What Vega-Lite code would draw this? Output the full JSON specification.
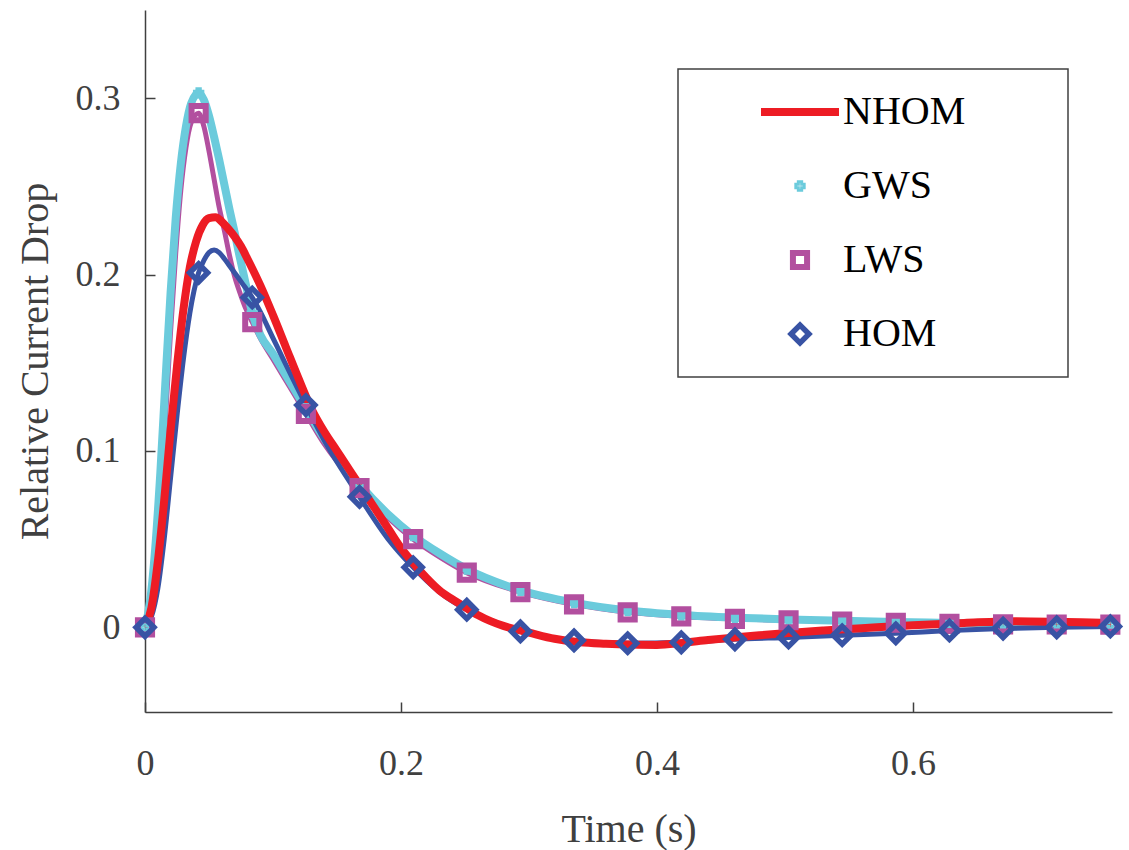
{
  "$schema": "https://vega.github.io/schema/vega-lite/v6.json",
  "width": 967,
  "height": 702,
  "autosize": {"type": "none"},
  "padding": {"left": 145, "top": 10, "right": 17, "bottom": 138},
  "background": "white",
  "config": {
    "view": {"stroke": null},
    "font": "Liberation Serif",
    "axis": {
      "grid": false,
      "domainColor": "#404040",
      "domainWidth": 1.5,
      "tickColor": "#404040",
      "tickWidth": 1.5,
      "tickSize": -10,
      "labelFont": "Liberation Serif",
      "labelFontSize": 36,
      "labelColor": "#404040",
      "titleFont": "Liberation Serif",
      "titleFontSize": 40,
      "titleFontWeight": "normal",
      "titleColor": "#404040",
      "labelFlush": false
    }
  },
  "datasets": {
    "curves": [
      {"s":"GWS","t":0,"v":0},{"s":"GWS","t":0.004,"v":0.015},{"s":"GWS","t":0.008,"v":0.045},{"s":"GWS","t":0.012,"v":0.088},{"s":"GWS","t":0.016,"v":0.14},{"s":"GWS","t":0.02,"v":0.19},{"s":"GWS","t":0.024,"v":0.232},{"s":"GWS","t":0.028,"v":0.263},{"s":"GWS","t":0.032,"v":0.284},{"s":"GWS","t":0.036,"v":0.297},{"s":"GWS","t":0.0419,"v":0.303},{"s":"GWS","t":0.046,"v":0.299},{"s":"GWS","t":0.05,"v":0.29},{"s":"GWS","t":0.054,"v":0.278},{"s":"GWS","t":0.058,"v":0.265},{"s":"GWS","t":0.062,"v":0.251},{"s":"GWS","t":0.066,"v":0.237},{"s":"GWS","t":0.07,"v":0.224},{"s":"GWS","t":0.074,"v":0.21},{"s":"GWS","t":0.078,"v":0.197},{"s":"GWS","t":0.0838,"v":0.178},{"s":"GWS","t":0.09,"v":0.166},{"s":"GWS","t":0.1,"v":0.155},{"s":"GWS","t":0.11,"v":0.143},{"s":"GWS","t":0.1257,"v":0.124},{"s":"GWS","t":0.14,"v":0.107},{"s":"GWS","t":0.1676,"v":0.081},{"s":"GWS","t":0.19,"v":0.064},{"s":"GWS","t":0.2095,"v":0.052},{"s":"GWS","t":0.23,"v":0.042},{"s":"GWS","t":0.2514,"v":0.033},{"s":"GWS","t":0.2933,"v":0.021},{"s":"GWS","t":0.3352,"v":0.014},{"s":"GWS","t":0.3771,"v":0.0095},{"s":"GWS","t":0.419,"v":0.007},{"s":"GWS","t":0.4609,"v":0.0055},{"s":"GWS","t":0.5028,"v":0.0045},{"s":"GWS","t":0.5447,"v":0.0037},{"s":"GWS","t":0.5866,"v":0.003},{"s":"GWS","t":0.6285,"v":0.0025},{"s":"GWS","t":0.6704,"v":0.002},{"s":"GWS","t":0.7123,"v":0.0018},{"s":"GWS","t":0.7542,"v":0.0016},
      {"s":"LWS","t":0,"v":0},{"s":"LWS","t":0.004,"v":0.008},{"s":"LWS","t":0.008,"v":0.032},{"s":"LWS","t":0.012,"v":0.07},{"s":"LWS","t":0.016,"v":0.118},{"s":"LWS","t":0.02,"v":0.168},{"s":"LWS","t":0.024,"v":0.212},{"s":"LWS","t":0.028,"v":0.248},{"s":"LWS","t":0.032,"v":0.272},{"s":"LWS","t":0.036,"v":0.286},{"s":"LWS","t":0.0419,"v":0.2915},{"s":"LWS","t":0.046,"v":0.284},{"s":"LWS","t":0.05,"v":0.27},{"s":"LWS","t":0.054,"v":0.254},{"s":"LWS","t":0.058,"v":0.238},{"s":"LWS","t":0.062,"v":0.225},{"s":"LWS","t":0.066,"v":0.211},{"s":"LWS","t":0.07,"v":0.199},{"s":"LWS","t":0.074,"v":0.19},{"s":"LWS","t":0.078,"v":0.182},{"s":"LWS","t":0.0838,"v":0.173},{"s":"LWS","t":0.09,"v":0.164},{"s":"LWS","t":0.1,"v":0.152},{"s":"LWS","t":0.11,"v":0.14},{"s":"LWS","t":0.1257,"v":0.121},{"s":"LWS","t":0.14,"v":0.104},{"s":"LWS","t":0.1676,"v":0.079},{"s":"LWS","t":0.19,"v":0.062},{"s":"LWS","t":0.2095,"v":0.05},{"s":"LWS","t":0.23,"v":0.04},{"s":"LWS","t":0.2514,"v":0.031},{"s":"LWS","t":0.2933,"v":0.02},{"s":"LWS","t":0.3352,"v":0.013},{"s":"LWS","t":0.3771,"v":0.0085},{"s":"LWS","t":0.419,"v":0.0062},{"s":"LWS","t":0.4609,"v":0.0048},{"s":"LWS","t":0.5028,"v":0.004},{"s":"LWS","t":0.5447,"v":0.0033},{"s":"LWS","t":0.5866,"v":0.0026},{"s":"LWS","t":0.6285,"v":0.002},{"s":"LWS","t":0.6704,"v":0.0017},{"s":"LWS","t":0.7123,"v":0.0016},{"s":"LWS","t":0.7542,"v":0.0015},
      {"s":"HOM","t":0,"v":0},{"s":"HOM","t":0.005,"v":0.006},{"s":"HOM","t":0.01,"v":0.022},{"s":"HOM","t":0.015,"v":0.05},{"s":"HOM","t":0.02,"v":0.085},{"s":"HOM","t":0.025,"v":0.12},{"s":"HOM","t":0.03,"v":0.152},{"s":"HOM","t":0.035,"v":0.178},{"s":"HOM","t":0.0419,"v":0.201},{"s":"HOM","t":0.046,"v":0.208},{"s":"HOM","t":0.05,"v":0.2125},{"s":"HOM","t":0.054,"v":0.214},{"s":"HOM","t":0.058,"v":0.2125},{"s":"HOM","t":0.062,"v":0.209},{"s":"HOM","t":0.066,"v":0.205},{"s":"HOM","t":0.07,"v":0.201},{"s":"HOM","t":0.075,"v":0.196},{"s":"HOM","t":0.0838,"v":0.187},{"s":"HOM","t":0.09,"v":0.179},{"s":"HOM","t":0.1,"v":0.164},{"s":"HOM","t":0.11,"v":0.149},{"s":"HOM","t":0.1257,"v":0.126},{"s":"HOM","t":0.14,"v":0.106},{"s":"HOM","t":0.1676,"v":0.074},{"s":"HOM","t":0.19,"v":0.05},{"s":"HOM","t":0.2095,"v":0.034},{"s":"HOM","t":0.23,"v":0.02},{"s":"HOM","t":0.2514,"v":0.01},{"s":"HOM","t":0.27,"v":0.004},{"s":"HOM","t":0.2933,"v":-0.0023},{"s":"HOM","t":0.31,"v":-0.005},{"s":"HOM","t":0.3352,"v":-0.0074},{"s":"HOM","t":0.3771,"v":-0.009},{"s":"HOM","t":0.419,"v":-0.0085},{"s":"HOM","t":0.4609,"v":-0.0068},{"s":"HOM","t":0.5028,"v":-0.0057},{"s":"HOM","t":0.5447,"v":-0.0045},{"s":"HOM","t":0.5866,"v":-0.0034},{"s":"HOM","t":0.6285,"v":-0.0018},{"s":"HOM","t":0.6704,"v":-0.0007},{"s":"HOM","t":0.7123,"v":0},{"s":"HOM","t":0.7542,"v":0.0005},
      {"s":"NHOM","t":0,"v":0},{"s":"NHOM","t":0.005,"v":0.011},{"s":"NHOM","t":0.01,"v":0.037},{"s":"NHOM","t":0.015,"v":0.072},{"s":"NHOM","t":0.02,"v":0.112},{"s":"NHOM","t":0.025,"v":0.148},{"s":"NHOM","t":0.03,"v":0.18},{"s":"NHOM","t":0.035,"v":0.204},{"s":"NHOM","t":0.04,"v":0.219},{"s":"NHOM","t":0.045,"v":0.228},{"s":"NHOM","t":0.05,"v":0.232},{"s":"NHOM","t":0.055,"v":0.2325},{"s":"NHOM","t":0.06,"v":0.23},{"s":"NHOM","t":0.065,"v":0.226},{"s":"NHOM","t":0.07,"v":0.2215},{"s":"NHOM","t":0.075,"v":0.216},{"s":"NHOM","t":0.08,"v":0.209},{"s":"NHOM","t":0.09,"v":0.194},{"s":"NHOM","t":0.1,"v":0.177},{"s":"NHOM","t":0.11,"v":0.159},{"s":"NHOM","t":0.12,"v":0.141},{"s":"NHOM","t":0.13,"v":0.124},{"s":"NHOM","t":0.14,"v":0.111},{"s":"NHOM","t":0.15,"v":0.1},{"s":"NHOM","t":0.16,"v":0.089},{"s":"NHOM","t":0.17,"v":0.078},{"s":"NHOM","t":0.18,"v":0.067},{"s":"NHOM","t":0.19,"v":0.056},{"s":"NHOM","t":0.2,"v":0.045},{"s":"NHOM","t":0.21,"v":0.036},{"s":"NHOM","t":0.22,"v":0.028},{"s":"NHOM","t":0.23,"v":0.021},{"s":"NHOM","t":0.24,"v":0.016},{"s":"NHOM","t":0.25,"v":0.0115},{"s":"NHOM","t":0.26,"v":0.007},{"s":"NHOM","t":0.27,"v":0.0035},{"s":"NHOM","t":0.28,"v":0.0008},{"s":"NHOM","t":0.29,"v":-0.0012},{"s":"NHOM","t":0.3,"v":-0.003},{"s":"NHOM","t":0.32,"v":-0.0065},{"s":"NHOM","t":0.34,"v":-0.0085},{"s":"NHOM","t":0.36,"v":-0.0093},{"s":"NHOM","t":0.38,"v":-0.0098},{"s":"NHOM","t":0.4,"v":-0.01},{"s":"NHOM","t":0.42,"v":-0.0088},{"s":"NHOM","t":0.44,"v":-0.0072},{"s":"NHOM","t":0.46,"v":-0.0058},{"s":"NHOM","t":0.48,"v":-0.0045},{"s":"NHOM","t":0.5,"v":-0.0033},{"s":"NHOM","t":0.53,"v":-0.0018},{"s":"NHOM","t":0.56,"v":-0.0005},{"s":"NHOM","t":0.6,"v":0.0012},{"s":"NHOM","t":0.64,"v":0.0025},{"s":"NHOM","t":0.68,"v":0.0035},{"s":"NHOM","t":0.72,"v":0.003},{"s":"NHOM","t":0.755,"v":0.0025}
    ],
    "markers": [
      {"s":"GWS","t":0,"v":0},{"s":"GWS","t":0.0419,"v":0.303},{"s":"GWS","t":0.0838,"v":0.178},{"s":"GWS","t":0.1257,"v":0.124},{"s":"GWS","t":0.1676,"v":0.081},{"s":"GWS","t":0.2095,"v":0.052},{"s":"GWS","t":0.2514,"v":0.033},{"s":"GWS","t":0.2933,"v":0.021},{"s":"GWS","t":0.3352,"v":0.014},{"s":"GWS","t":0.3771,"v":0.0095},{"s":"GWS","t":0.419,"v":0.007},{"s":"GWS","t":0.4609,"v":0.0055},{"s":"GWS","t":0.5028,"v":0.0045},{"s":"GWS","t":0.5447,"v":0.0037},{"s":"GWS","t":0.5866,"v":0.003},{"s":"GWS","t":0.6285,"v":0.0025},{"s":"GWS","t":0.6704,"v":0.002},{"s":"GWS","t":0.7123,"v":0.0018},{"s":"GWS","t":0.7542,"v":0.0016},
      {"s":"LWS","t":0,"v":0},{"s":"LWS","t":0.0419,"v":0.2915},{"s":"LWS","t":0.0838,"v":0.173},{"s":"LWS","t":0.1257,"v":0.121},{"s":"LWS","t":0.1676,"v":0.079},{"s":"LWS","t":0.2095,"v":0.05},{"s":"LWS","t":0.2514,"v":0.031},{"s":"LWS","t":0.2933,"v":0.02},{"s":"LWS","t":0.3352,"v":0.013},{"s":"LWS","t":0.3771,"v":0.0085},{"s":"LWS","t":0.419,"v":0.0062},{"s":"LWS","t":0.4609,"v":0.0048},{"s":"LWS","t":0.5028,"v":0.004},{"s":"LWS","t":0.5447,"v":0.0033},{"s":"LWS","t":0.5866,"v":0.0026},{"s":"LWS","t":0.6285,"v":0.002},{"s":"LWS","t":0.6704,"v":0.0017},{"s":"LWS","t":0.7123,"v":0.0016},{"s":"LWS","t":0.7542,"v":0.0015},
      {"s":"HOM","t":0,"v":0},{"s":"HOM","t":0.0419,"v":0.201},{"s":"HOM","t":0.0838,"v":0.187},{"s":"HOM","t":0.1257,"v":0.126},{"s":"HOM","t":0.1676,"v":0.074},{"s":"HOM","t":0.2095,"v":0.034},{"s":"HOM","t":0.2514,"v":0.01},{"s":"HOM","t":0.2933,"v":-0.0023},{"s":"HOM","t":0.3352,"v":-0.0074},{"s":"HOM","t":0.3771,"v":-0.009},{"s":"HOM","t":0.419,"v":-0.0085},{"s":"HOM","t":0.4609,"v":-0.0068},{"s":"HOM","t":0.5028,"v":-0.0057},{"s":"HOM","t":0.5447,"v":-0.0045},{"s":"HOM","t":0.5866,"v":-0.0034},{"s":"HOM","t":0.6285,"v":-0.0018},{"s":"HOM","t":0.6704,"v":-0.0007},{"s":"HOM","t":0.7123,"v":0},{"s":"HOM","t":0.7542,"v":0.0005}
    ]
  },
  "encoding": {
    "x": {"field": "t", "type": "quantitative", "scale": {"domain": [0, 0.7555], "nice": false, "zero": false}, "axis": {"title": "Time (s)", "values": [0, 0.2, 0.4, 0.6], "format": ".1~f", "labelPadding": 44, "titlePadding": 28}},
    "y": {"field": "v", "type": "quantitative", "scale": {"domain": [-0.048, 0.35], "nice": false, "zero": false}, "axis": {"title": "Relative Current Drop", "values": [0, 0.1, 0.2, 0.3], "format": ".1~f", "labelPadding": 35, "titlePadding": 20}},
    "color": {"field": "s", "type": "nominal", "scale": {"domain": ["NHOM","GWS","LWS","HOM"], "range": ["#ED1C24","#6BCBDC","#B24F9F","#3853A4"]},
      "legend": {"title": null, "orient": "none", "legendX": 533, "legendY": 59, "padding": 6, "strokeColor": "#404040", "fillColor": "white", "clipHeight": 74, "labelFont": "Liberation Serif", "labelFontSize": 40, "labelColor": "black", "labelOffset": 0, "rowPadding": 0, "symbolOffset": 73,
        "encode": {
          "legend": {"update": {"strokeWidth": {"value": 1.5}}},
          "symbols": {"update": {
            "fill": {"value": {"expr": "datum.value === 'GWS' ? '#6BCBDC' : 'white'"}},
            "opacity": {"value": 1}}},
          "entries": {"update": {"width": {"value": 378}}}
        }}}
  },
  "layer": [
    {"data": {"name": "curves"}, "transform": [{"filter": "datum.s === 'LWS'"}], "mark": {"type": "line", "strokeWidth": 5, "interpolate": "monotone"}},
    {"data": {"name": "curves"}, "transform": [{"filter": "datum.s === 'GWS'"}], "mark": {"type": "line", "strokeWidth": 8, "interpolate": "monotone"}},
    {"data": {"name": "curves"}, "transform": [{"filter": "datum.s === 'HOM'"}], "mark": {"type": "line", "strokeWidth": 5, "interpolate": "monotone"}},
    {"data": {"name": "curves"}, "transform": [{"filter": "datum.s === 'NHOM'"}], "mark": {"type": "line", "strokeWidth": 8, "interpolate": "monotone"}},
    {"data": {"name": "markers"}, "transform": [{"filter": "datum.s === 'GWS'"}], "mark": {"type": "point", "filled": false, "opacity": 1},
     "encoding": {
       "shape": {"field": "s", "type": "nominal", "scale": {"domain": ["NHOM","GWS","LWS","HOM"], "range": ["stroke","cross","square","diamond"]},
         "legend": {"title": null, "orient": "none", "legendX": 533, "legendY": 59, "padding": 6, "strokeColor": "#404040", "fillColor": "white", "clipHeight": 74, "labelFont": "Liberation Serif", "labelFontSize": 40, "labelColor": "black", "labelOffset": 0, "rowPadding": 0, "symbolOffset": 73,
           "encode": {
             "legend": {"update": {"strokeWidth": {"value": 1.5}}},
             "symbols": {"update": {
               "fill": {"value": {"expr": "datum.value === 'GWS' ? '#6BCBDC' : 'white'"}},
               "opacity": {"value": 1}}},
             "entries": {"update": {"width": {"value": 378}}}
           }}},
       "size": {"field": "s", "type": "nominal", "scale": {"type": "ordinal", "domain": ["NHOM","GWS","LWS","HOM"], "range": [6084, 70, 200, 320]},
         "legend": {"title": null, "orient": "none", "legendX": 533, "legendY": 59, "padding": 6, "strokeColor": "#404040", "fillColor": "white", "clipHeight": 74, "labelFont": "Liberation Serif", "labelFontSize": 40, "labelColor": "black", "labelOffset": 0, "rowPadding": 0, "symbolOffset": 73,
           "encode": {
             "legend": {"update": {"strokeWidth": {"value": 1.5}}},
             "symbols": {"update": {
               "fill": {"value": {"expr": "datum.value === 'GWS' ? '#6BCBDC' : 'white'"}},
               "opacity": {"value": 1}}},
             "entries": {"update": {"width": {"value": 378}}}
           }}},
       "strokeWidth": {"field": "s", "type": "nominal", "scale": {"type": "ordinal", "domain": ["NHOM","GWS","LWS","HOM"], "range": [8, 3, 6, 5.5]},
         "legend": {"title": null, "orient": "none", "legendX": 533, "legendY": 59, "padding": 6, "strokeColor": "#404040", "fillColor": "white", "clipHeight": 74, "labelFont": "Liberation Serif", "labelFontSize": 40, "labelColor": "black", "labelOffset": 0, "rowPadding": 0, "symbolOffset": 73,
           "encode": {
             "legend": {"update": {"strokeWidth": {"value": 1.5}}},
             "symbols": {"update": {
               "fill": {"value": {"expr": "datum.value === 'GWS' ? '#6BCBDC' : 'white'"}},
               "opacity": {"value": 1}}},
             "entries": {"update": {"width": {"value": 378}}}
           }}}
     }},
    {"data": {"name": "markers"}, "transform": [{"filter": "datum.s === 'LWS'"}], "mark": {"type": "point", "filled": false, "opacity": 1},
     "encoding": {
       "shape": {"field": "s", "type": "nominal", "scale": {"domain": ["NHOM","GWS","LWS","HOM"], "range": ["stroke","cross","square","diamond"]}},
       "size": {"field": "s", "type": "nominal", "scale": {"type": "ordinal", "domain": ["NHOM","GWS","LWS","HOM"], "range": [6084, 70, 200, 320]}},
       "strokeWidth": {"field": "s", "type": "nominal", "scale": {"type": "ordinal", "domain": ["NHOM","GWS","LWS","HOM"], "range": [8, 3, 6, 5.5]}}
     }},
    {"data": {"name": "markers"}, "transform": [{"filter": "datum.s === 'HOM'"}], "mark": {"type": "point", "filled": false, "opacity": 1},
     "encoding": {
       "shape": {"field": "s", "type": "nominal", "scale": {"domain": ["NHOM","GWS","LWS","HOM"], "range": ["stroke","cross","square","diamond"]}},
       "size": {"field": "s", "type": "nominal", "scale": {"type": "ordinal", "domain": ["NHOM","GWS","LWS","HOM"], "range": [6084, 70, 200, 320]}},
       "strokeWidth": {"field": "s", "type": "nominal", "scale": {"type": "ordinal", "domain": ["NHOM","GWS","LWS","HOM"], "range": [8, 3, 6, 5.5]}}
     }}
  ]
}
